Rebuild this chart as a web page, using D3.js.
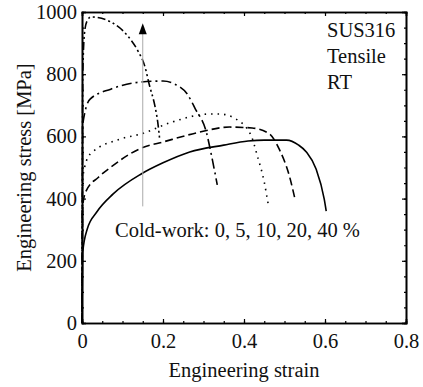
<!DOCTYPE html>
<html>
<head>
<meta charset="utf-8">
<script src="https://cdn.jsdelivr.net/npm/d3@7"></script>
<style>
  body { margin: 0; background: #fff; }
  svg text { font-family: "Liberation Serif", "Times New Roman", Times, "DejaVu Serif", serif !important; }
</style>
</head>
<body>
<div id="chart"></div>
<script>
// stress-strain curves, [strain, stress MPa]
var cw0 = [[0, 0], [0.002, 230], [0.013, 302], [0.036, 356], [0.077, 415], [0.146, 479], [0.2, 515],
  [0.266, 550], [0.35, 572], [0.41, 585], [0.45, 588], [0.505, 588], [0.535, 572], [0.554, 550],
  [0.578, 495], [0.598, 399], [0.603, 360]];
var cw5 = [[0, 0], [0.002, 380], [0.01, 424], [0.04, 468], [0.071, 501], [0.146, 562], [0.2, 582],
  [0.285, 612], [0.364, 630], [0.42, 627], [0.463, 608], [0.487, 559], [0.512, 473], [0.527, 392]];
var cw10 = [[0, 0], [0.002, 470], [0.02, 543], [0.096, 592], [0.146, 608], [0.22, 645], [0.315, 672],
  [0.34, 672], [0.38, 656], [0.418, 601], [0.433, 537], [0.45, 453], [0.46, 380]];
var cw20 = [[0, 0], [0.002, 640], [0.02, 720], [0.071, 752], [0.146, 775], [0.2, 778], [0.229, 768],
  [0.26, 736], [0.28, 688], [0.307, 614], [0.32, 537], [0.334, 444]];
var cw40 = [[0, 0], [0.002, 800], [0.006, 930], [0.012, 970], [0.022, 984], [0.071, 968], [0.113, 923],
  [0.138, 875], [0.155, 826], [0.167, 762], [0.18, 698], [0.187, 646], [0.192, 588]];

var series = [cw0, cw5, cw10, cw20, cw40];
var dashes = ["none", "8,4", "1.5,5", "10,4,2,4", "8,3,2,3,2,3"];

var xTicks = [0, 0.2, 0.4, 0.6, 0.8];
var yTicks = [0, 200, 400, 600, 800, 1000];
var xMinor = d3.range(0, 0.801, 0.05);
var yMinor = d3.range(0, 1001, 50);

var arrowX = 0.15, arrowFrom = 375, arrowTo = 964;
var infoLines = ["SUS316", "Tensile", "RT"];
var coldWorkLabel = "Cold-work: 0, 5, 10, 20, 40 %";

var width = 423, height = 387;
var margins = { left: 82, right: 17, top: 12, bottom: 64 };
var fontSize = "20.5px";
var serif = "'Liberation Serif', 'Times New Roman', 'DejaVu Serif', serif";

var svg = d3.select("#chart").append("svg")
  .attr("width", width)
  .attr("height", height);

var xScale = d3.scaleLinear().domain([0, 0.8]).range([margins.left, width - margins.right]);
var yScale = d3.scaleLinear().domain([0, 1000]).range([height - margins.bottom, margins.top]);

var plotBottom = height - margins.bottom;
var plotRight = width - margins.right;

// minor ticks
function minorAxis(axis, ticks) {
  return axis.tickValues(ticks).tickSize(-2).tickFormat("");
}
svg.append("g").attr("transform", `translate(0,${plotBottom})`)
  .call(minorAxis(d3.axisBottom(xScale), xMinor));
svg.append("g").attr("transform", `translate(0,${margins.top})`)
  .call(minorAxis(d3.axisTop(xScale), xMinor));
svg.append("g").attr("transform", `translate(${margins.left},0)`)
  .call(minorAxis(d3.axisLeft(yScale), yMinor));
svg.append("g").attr("transform", `translate(${plotRight},0)`)
  .call(minorAxis(d3.axisRight(yScale), yMinor));

// major ticks
svg.append("g").attr("class", "x-axis")
  .attr("transform", `translate(0,${plotBottom})`)
  .call(d3.axisBottom(xScale).tickValues(xTicks).tickSize(-4).tickPadding(10)
    .tickFormat(function (d) { return d === 0 ? "0" : d3.format(".1f")(d); }));
svg.append("g").attr("transform", `translate(0,${margins.top})`)
  .call(d3.axisTop(xScale).tickValues(xTicks).tickSize(-4).tickFormat(""));
svg.append("g").attr("class", "y-axis")
  .attr("transform", `translate(${margins.left},0)`)
  .call(d3.axisLeft(yScale).tickValues(yTicks).tickSize(-4).tickPadding(5).tickFormat(d3.format("d")));
svg.append("g").attr("transform", `translate(${plotRight},0)`)
  .call(d3.axisRight(yScale).tickValues(yTicks).tickSize(-4).tickFormat(""));

svg.selectAll("g").attr("font-family", serif);
svg.selectAll(".domain").attr("stroke", "#000").attr("stroke-width", 1.6);
svg.selectAll(".tick line").attr("stroke", "#000").attr("stroke-width", 1.2);
svg.selectAll(".tick text")
  .attr("font-family", serif)
  .attr("font-size", fontSize)
  .attr("fill", "#111");

// curves
var line = d3.line()
  .x(function (d) { return xScale(d[0]); })
  .y(function (d) { return yScale(d[1]); })
  .curve(d3.curveMonotoneX);

svg.selectAll("path.curve")
  .data(series)
  .enter()
  .append("path")
  .attr("class", "curve")
  .attr("d", line)
  .attr("fill", "none")
  .attr("stroke", "#000")
  .attr("stroke-width", 1.6)
  .attr("stroke-dasharray", function (d, i) { return dashes[i]; });

// arrow
svg.append("line")
  .attr("x1", xScale(arrowX)).attr("x2", xScale(arrowX))
  .attr("y1", yScale(arrowFrom)).attr("y2", yScale(arrowTo) + 8)
  .attr("stroke", "#aaa")
  .attr("stroke-width", 1);
var ax = xScale(arrowX), ay = yScale(arrowTo);
svg.append("path")
  .attr("d", `M${ax},${ay}L${ax - 4},${ay + 11}L${ax + 4},${ay + 11}Z`)
  .attr("fill", "#000");

// labels
svg.append("text")
  .attr("x", 115)
  .attr("y", 237)
  .attr("font-family", serif)
  .attr("font-size", fontSize)
  .attr("fill", "#111")
  .text(coldWorkLabel);

svg.selectAll("text.info")
  .data(infoLines)
  .enter()
  .append("text")
  .attr("class", "info")
  .attr("x", 327)
  .attr("y", function (d, i) { return 37 + i * 26; })
  .attr("font-family", serif)
  .attr("font-size", fontSize)
  .attr("fill", "#111")
  .text(function (d) { return d; });

svg.append("text")
  .attr("x", (margins.left + plotRight) / 2)
  .attr("y", 377)
  .attr("text-anchor", "middle")
  .attr("font-family", serif)
  .attr("font-size", fontSize)
  .attr("fill", "#111")
  .text("Engineering strain");

svg.append("text")
  .attr("transform", `translate(31,${(margins.top + plotBottom) / 2}) rotate(-90)`)
  .attr("text-anchor", "middle")
  .attr("font-family", serif)
  .attr("font-size", fontSize)
  .attr("fill", "#111")
  .text("Engineering stress [MPa]");
</script>
</body>
</html>
